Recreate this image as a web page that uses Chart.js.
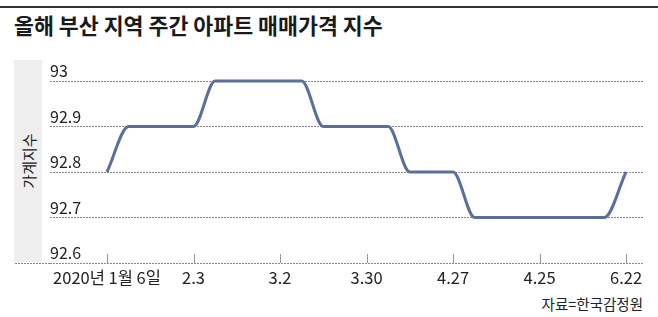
<!DOCTYPE html>
<html>
<head>
  <meta charset="utf-8">
  <title>올해 부산 지역 주간 아파트 매매가격 지수</title>
  <script src="https://cdn.jsdelivr.net/npm/chart.js"></script>
  <style>
    body { margin: 0; width: 658px; height: 317px; position: relative; background: #fff; overflow: hidden;
           font-family: 'Noto Sans CJK KR', 'Noto Sans', sans-serif; color: #222; }
    #rule { position: absolute; left: 0; top: 6px; width: 658px; height: 2px; background: #333; }
    #title { position: absolute; left: 14px; top: 10px; font-size: 21.7px; font-weight: bold; line-height: 30px; color: #1a1a1a; }
    #ybox { position: absolute; left: 14px; top: 60px; width: 28px; height: 202px; background: #efefef; }
    #ylabel { position: absolute; left: 28px; top: 161px; transform: translate(-50%, -50%) rotate(-90deg);
              font-size: 15px; white-space: nowrap; color: #222; }
    #source { position: absolute; right: 15px; top: 294px; font-size: 14.5px; color: #222; line-height: 20px; }
    #myChart { position: absolute; left: 0; top: 0; }
  </style>
</head>
<body>
  <div id="rule"></div>
  <div id="title">올해 부산 지역 주간 아파트 매매가격 지수</div>
  <div id="ybox"></div>
  <div id="ylabel">가계지수</div>
  <div id="source">자료=한국감정원</div>
  <canvas id="myChart" width="658" height="317"></canvas>

  <script>
    // weekly index, 2020-01-06 .. 2020-06-22 (25 weeks)
    const values = [92.8, 92.9, 92.9, 92.9, 92.9, 93.0, 93.0, 93.0, 93.0, 93.0,
                    92.9, 92.9, 92.9, 92.9, 92.8, 92.8, 92.8, 92.7, 92.7, 92.7,
                    92.7, 92.7, 92.7, 92.7, 92.8];
    // labelled weeks and their text
    const tickWeeks = [0, 4, 8, 12, 16, 20, 24];
    const tickLabels = ['2020년 1월 6일', '2.3', '3.2', '3.30', '4.27', '4.25', '6.22'];
    const yTicks = [92.6, 92.7, 92.8, 92.9, 93.0];

    const points = values.map((v, i) => ({ x: i, y: v }));
    const fontFamily = "'Noto Sans CJK KR', 'Noto Sans', sans-serif";

    // small upward tick marks on the x axis + bottom line running into the label box
    const axisDecor = {
      id: 'axisDecor',
      beforeDatasetsDraw(chart) {
        const ctx = chart.ctx;
        const x = chart.scales.x;
        const b = chart.chartArea.bottom;
        ctx.save();
        ctx.strokeStyle = '#9a9a9a';
        ctx.lineWidth = 1;
        tickWeeks.forEach(w => {
          const px = Math.round(x.getPixelForValue(w)) + 0.5;
          ctx.beginPath();
          ctx.moveTo(px, b - 9);
          ctx.lineTo(px, b);
          ctx.stroke();
        });
        ctx.setLineDash([2, 1]);
        ctx.strokeStyle = '#8a8a8a';
        ctx.beginPath();
        ctx.moveTo(15, Math.round(b) + 0.5);
        ctx.lineTo(chart.chartArea.left, Math.round(b) + 0.5);
        ctx.stroke();
        ctx.restore();
      }
    };

    const ctx = document.getElementById('myChart').getContext('2d');
    const myChart = new Chart(ctx, {
      type: 'line',
      data: {
        datasets: [{
          data: points,
          borderColor: '#5b6e9c',
          borderWidth: 3,
          pointRadius: 0,
          fill: false,
          cubicInterpolationMode: 'monotone',
          clip: 6
        }]
      },
      options: {
        responsive: false,
        animation: false,
        devicePixelRatio: 1,
        layout: { padding: { left: 50, right: 15, top: 81, bottom: 24 } },
        plugins: { legend: { display: false }, tooltip: { enabled: false } },
        scales: {
          x: {
            type: 'linear',
            min: -2.636,
            max: 24.786,
            afterFit: s => { s.height = 30; },
            afterBuildTicks: s => { s.ticks = tickWeeks.map(v => ({ value: v })); },
            grid: { display: false, drawTicks: false },
            border: { display: false },
            ticks: {
              autoSkip: false,
              maxRotation: 0,
              padding: 5,
              color: '#222',
              font: { family: fontFamily, size: 16.5 },
              callback: (v, i) => tickLabels[i]
            }
          },
          y: {
            min: 92.6,
            max: 93.0,
            afterFit: s => { s.width = 0; },
            afterBuildTicks: s => { s.ticks = yTicks.map(v => ({ value: v })); },
            grid: { color: '#8a8a8a', lineWidth: 1, drawTicks: false },
            border: { display: false, dash: [2, 1] },
            ticks: {
              mirror: true,
              padding: 0,
              labelOffset: -10,
              color: '#222',
              font: { family: fontFamily, size: 16 },
              callback: v => String(Number(v.toFixed(1)))
            }
          }
        }
      },
      plugins: [axisDecor]
    });
  </script>
</body>
</html>
